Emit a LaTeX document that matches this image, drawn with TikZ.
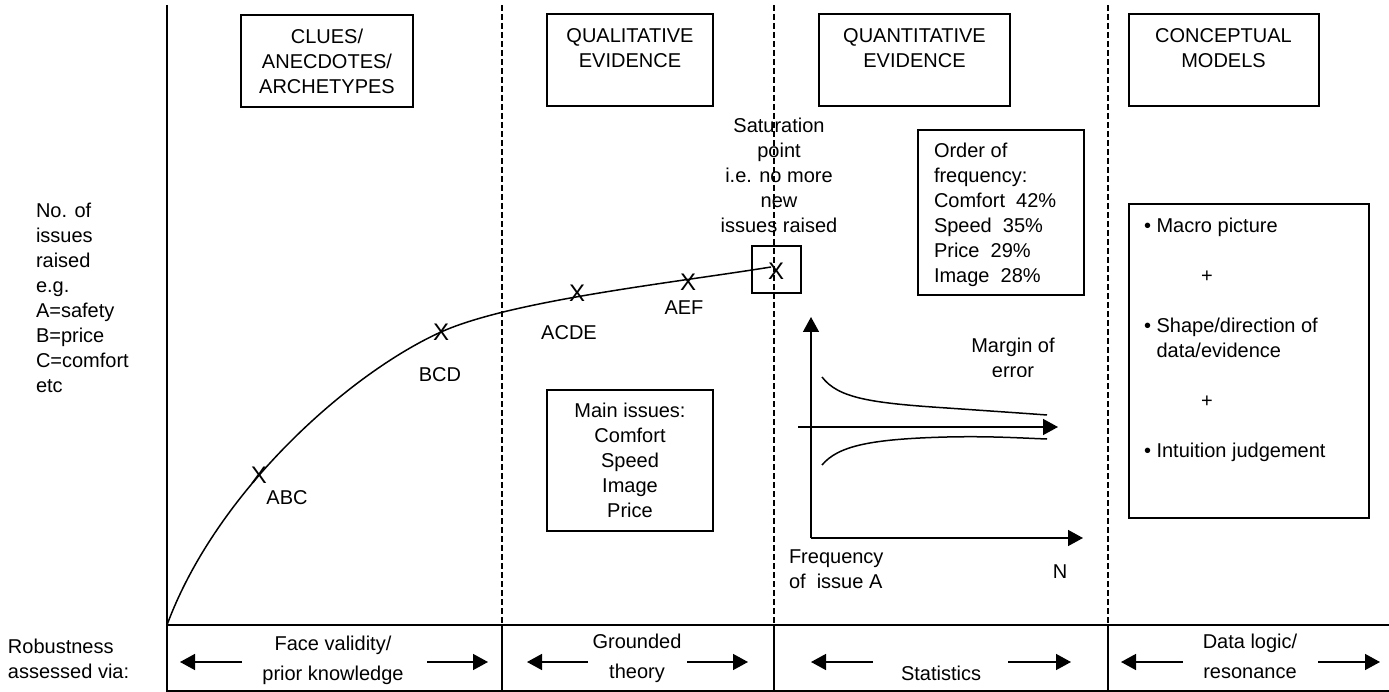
\documentclass[tikz,border=0pt]{standalone}
\usepackage{fontspec}
\setmainfont{Liberation Sans}
\usetikzlibrary{arrows.meta}
\begin{document}
\begin{tikzpicture}[x=1pt,y=-1pt,
  every node/.style={font=\fontsize{20}{25}\selectfont, inner sep=0pt, outer sep=0pt},
  frame/.style={draw, line width=1.8pt, anchor=north west},
  sepline/.style={line width=1.2pt, dash pattern=on 6pt off 3pt},
  solidline/.style={line width=1.8pt},
  arr/.style={line width=1.5pt, -{Triangle[length=15pt,width=16pt]}},
  xmark/.style={font=\fontsize{24}{24}\selectfont},
  curve/.style={line width=1.5pt}
]
\useasboundingbox (0,0) rectangle (1389,692);

% frame lines
\coordinate (axtop) at (167,5);
\coordinate (axbot) at (167,692);
\coordinate (o) at (167,625);
\coordinate (bandTR) at (1389,625);
\coordinate (bandBL) at (167,691);
\coordinate (bandBR) at (1389,691);
\draw[line width=2.2pt] (axtop) -- (axbot);
\draw[solidline] (o) -- (bandTR);
\draw[solidline] (bandBL) -- (bandBR);

% dividers
\foreach \xx/\nm in {502/a,774/b,1108/c}{
  \coordinate (d\nm top) at (\xx,5);
  \coordinate (d\nm mid) at (\xx,625);
  \coordinate (d\nm bot) at (\xx,691);
  \draw[sepline] (d\nm top) -- (d\nm mid);
  \draw[solidline] (d\nm mid) -- (d\nm bot);
}

% header boxes
\node[frame, minimum width=172pt, minimum height=92pt] (h1) at (241,15) {};
\node[anchor=north, align=center] (h1t) at (327,29.3) {CLUES/\\ANECDOTES/\\ARCHETYPES};
\node[frame, minimum width=166pt, minimum height=92pt] (h2) at (547,14) {};
\node[anchor=north, align=center] (h2t) at (630,28.3) {QUALITATIVE\\EVIDENCE};
\node[frame, minimum width=191pt, minimum height=92pt] (h3) at (819,14) {};
\node[anchor=north, align=center] (h3t) at (914.5,28.3) {QUANTITATIVE\\EVIDENCE};
\node[frame, minimum width=190pt, minimum height=92pt] (h4) at (1129,14) {};
\node[anchor=north, align=center] (h4t) at (1223.5,28.3) {CONCEPTUAL\\MODELS};

% left labels
\node[anchor=north west, align=left] (ylab) at (36,202.7) {No. of\\issues\\raised\\e.g.\\A=safety\\B=price\\C=comfort\\etc};
\node[anchor=north west, align=left] (rob) at (8,639) {Robustness\\assessed via:};

% main curve
\coordinate (csat) at (771,267);
\draw[curve] (o) .. controls (217,490) and (351,372.5) .. (441,332)
  .. controls (511,300.5) and (672,283) .. (csat);

% X marks and labels
\node[xmark] (xabc) at (259,475) {X};
\node (labc) at (287,498) {ABC};
\node[xmark] (xbcd) at (441,332) {X};
\node (lbcd) at (440,375) {BCD};
\node[xmark] (xacde) at (577,293) {X};
\node (lacde) at (569,333) {ACDE};
\node[xmark] (xaef) at (688,282) {X};
\node (laef) at (684,308) {AEF};
\node[xmark] (xsat) at (776,271) {X};
\node[frame, minimum width=49pt, minimum height=47pt] (satbox) at (752,246) {};
\node[anchor=north, align=center] (sat) at (779,118) {Saturation\\point\\i.e. no more\\new\\issues raised};

% main issues box
\node[frame, minimum width=166pt, minimum height=141pt] (mainbox) at (547,390) {};
\node[anchor=north, align=center] (maint) at (630,403.3) {Main issues:\\Comfort\\Speed\\Image\\Price};

% order of frequency box
\node[frame, minimum width=166pt, minimum height=165pt] (ordbox) at (918,130) {};
\node[anchor=north west, align=left] (ordt) at (934,143.3) {Order of\\frequency:\\Comfort\ \ 42\%\\Speed\ \ 35\%\\Price\ \ 29\%\\Image\ \ 28\%};

% graph
\coordinate (go) at (811,538);
\coordinate (gy) at (811,317);
\coordinate (gx) at (1083,538);
\coordinate (ma) at (798,427);
\coordinate (mb) at (1058,427);
\draw[arr] (go) -- (gy);
\draw[arr] (go) -- (gx);
\draw[arr] (ma) -- (mb);
\draw[curve] (822,377) .. controls (838,398) and (870,403) .. (947,408) .. controls (990,411) and (1020,413) .. (1047,415);
\draw[curve] (822,465) .. controls (838,446) and (870,439) .. (947,437) .. controls (990,436) and (1020,438) .. (1047,439);
\begin{scope}
  \clip (900,300) rectangle (1100,376);
  \node[anchor=north, align=center] (moe) at (1013,338) {Margin of\\error};
\end{scope}
\node[anchor=north west, align=left] (freq) at (789,550) {Frequency\\of\ \ issue A};
\node (nlab) at (1060,572) {N};

% conceptual box
\node[frame, minimum width=240pt, minimum height=314pt] (cbox) at (1129,204) {};
\node[anchor=north west, align=left] (ct) at (1144,218) {• Macro picture\\[25pt]\hspace*{57pt}+\\[25pt]• Shape/direction of\\\phantom{• }data/evidence\\[25pt]\hspace*{57pt}+\\[25pt]• Intuition judgement};

% bottom band
\node[anchor=north, align=center] (b1) at (333,636) {Face validity/\\[5pt]prior knowledge};
\node[anchor=north, align=center] (b2) at (637,634) {Grounded\\[5pt]theory};
\node[anchor=base] (b3) at (941,680) {Statistics};
\node[anchor=north, align=center] (b4) at (1250,634) {Data logic/\\[5pt]resonance};

\coordinate (a1l) at (242,662); \coordinate (a1lt) at (180,662);
\coordinate (a1r) at (427,662); \coordinate (a1rt) at (488,662);
\coordinate (a2l) at (588,662); \coordinate (a2lt) at (527,662);
\coordinate (a2r) at (687,662); \coordinate (a2rt) at (748,662);
\coordinate (a3l) at (873,662); \coordinate (a3lt) at (811,662);
\coordinate (a3r) at (1008,662); \coordinate (a3rt) at (1071,662);
\coordinate (a4l) at (1183,662); \coordinate (a4lt) at (1121,662);
\coordinate (a4r) at (1318,662); \coordinate (a4rt) at (1380,662);
\foreach \i in {1,2,3,4}{
  \draw[arr] (a\i l) -- (a\i lt);
  \draw[arr] (a\i r) -- (a\i rt);
}
\end{tikzpicture}
\end{document}
